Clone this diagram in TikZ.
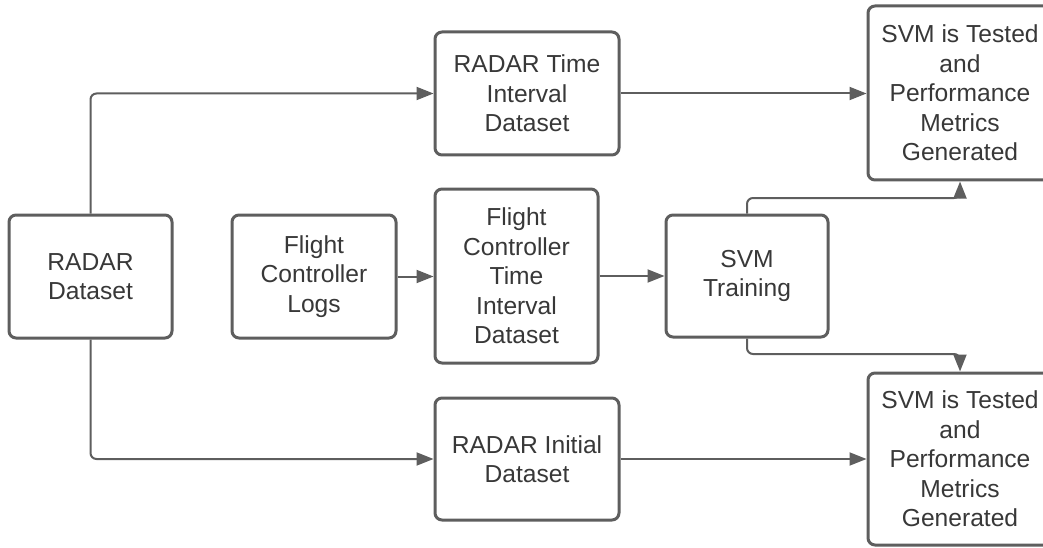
\documentclass[tikz,border=0pt]{standalone}
\usepackage{fontspec}
\setmainfont{Liberation Sans}
\usetikzlibrary{arrows.meta}
\definecolor{edgecol}{HTML}{5E5E5E}
\definecolor{txtcol}{HTML}{383838}
\begin{document}
\begin{tikzpicture}[x=1pt,y=-1pt,
  box/.style={draw=edgecol,line width=3pt,rounded corners=7pt,fill=white,
    align=center,text=txtcol,font=\fontsize{24.6}{29.5}\selectfont,inner sep=0pt},
  arr/.style={draw=edgecol,line width=2pt,rounded corners=6pt,
    -{Triangle[length=17pt,width=13pt]}}]
\useasboundingbox (0,0) rectangle (1043,548);
\node[box,minimum width=163pt,minimum height=123pt] (A) at (90.5,276.5) {RADAR\\Dataset};
\node[box,minimum width=164pt,minimum height=123pt] (B) at (314,276.5) {Flight\\Controller\\Logs};
\node[box,minimum width=184pt,minimum height=123pt] (C) at (527,93.5) {RADAR Time\\Interval\\Dataset};
\node[box,minimum width=163pt,minimum height=174pt] (D) at (516.5,276) {Flight\\Controller\\Time\\Interval\\Dataset};
\node[box,minimum width=184pt,minimum height=122pt] (E) at (527,459) {RADAR Initial\\Dataset};
\node[box,minimum width=162pt,minimum height=122pt] (F) at (747,276) {SVM\\Training};
\node[box,minimum width=184pt,minimum height=174pt] (G) at (960,93) {SVM is Tested\\and\\Performance\\Metrics\\Generated};
\node[box,minimum width=184pt,minimum height=172pt] (H) at (960,459) {SVM is Tested\\and\\Performance\\Metrics\\Generated};
\coordinate (upy) at (0,198);
\coordinate (dny) at (0,354);
\draw[arr] (A.north) |- (C.west);
\draw[arr] (A.south) |- (E.west);
\draw[arr] (B.east) -- (B.east -| D.west);
\draw[arr] (D.east) -- (D.east -| F.west);
\draw[arr] (C.east) -- (C.east -| G.west);
\draw[arr] (E.east) -- (E.east -| H.west);
\draw[arr] (F.north) -- (F.north |- upy) -| (G.south);
\draw[arr] (F.south) -- (F.south |- dny) -| (H.north);
\end{tikzpicture}
\end{document}
